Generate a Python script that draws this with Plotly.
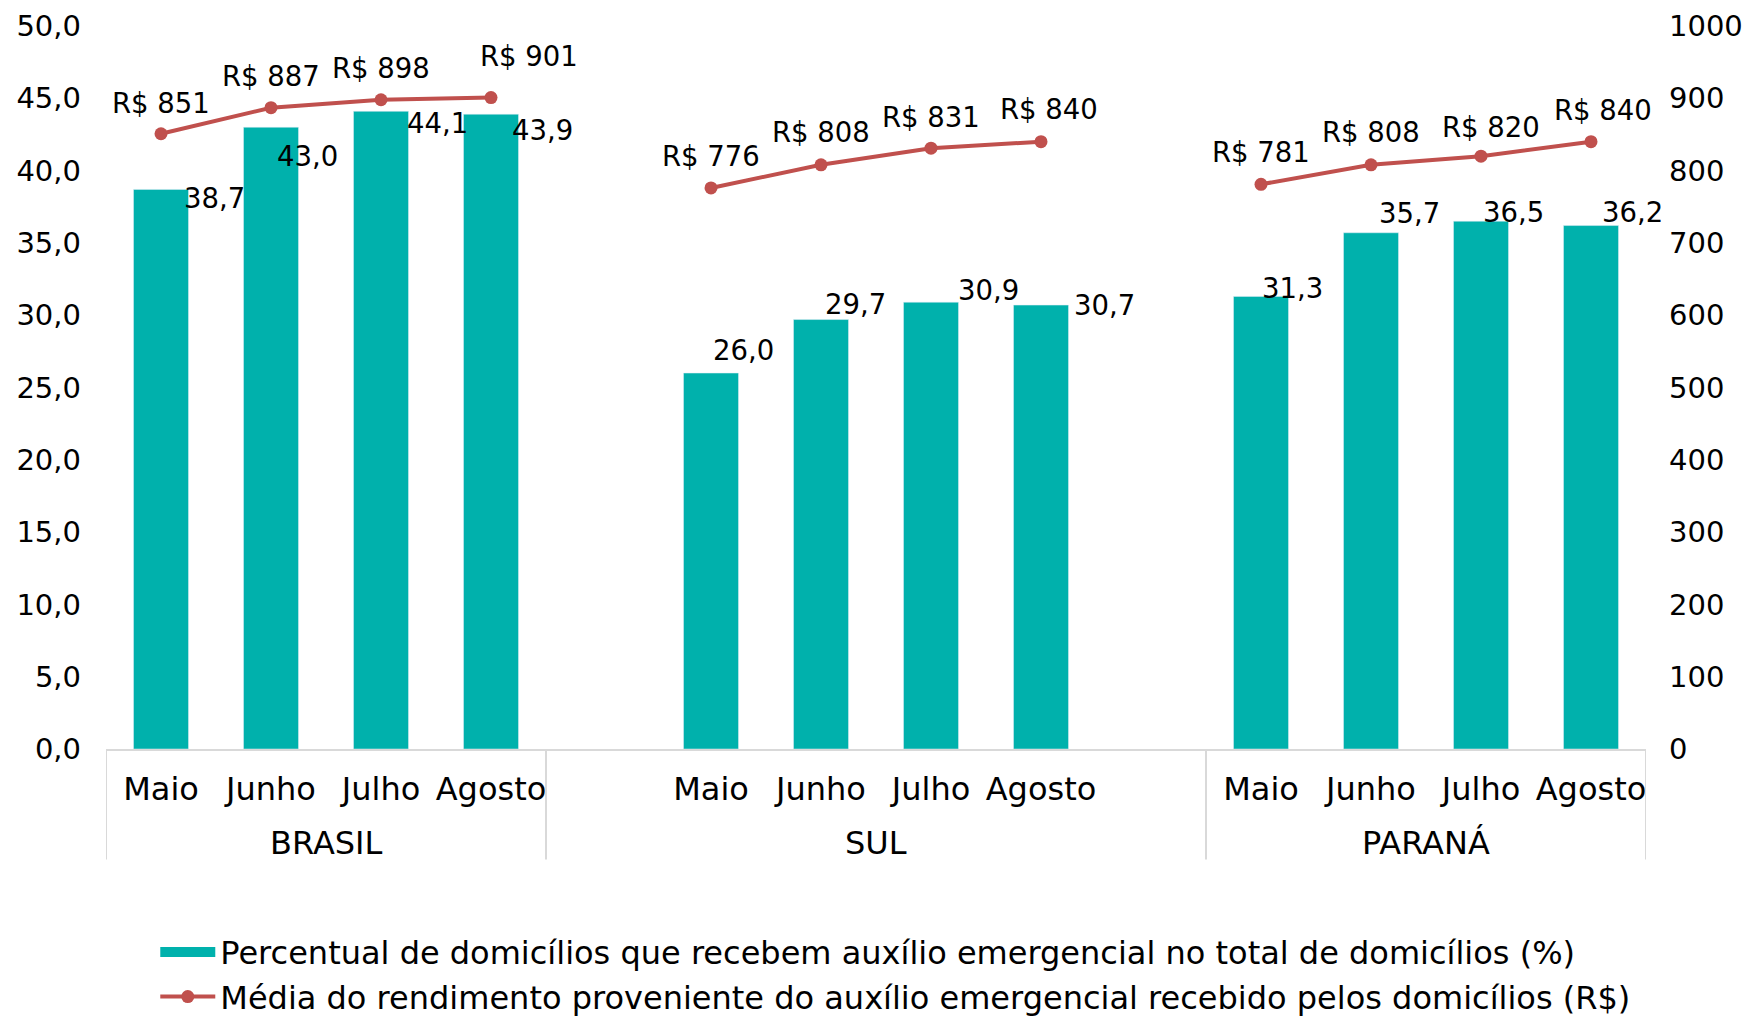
import plotly.graph_objects as go

# --- data -----------------------------------------------------------------
groups = ["BRASIL", "SUL", "PARANÁ"]
months = ["Maio", "Junho", "Julho", "Agosto"]

pct_brasil = [38.7, 43.0, 44.1, 43.9]
pct_sul = [26.0, 29.7, 30.9, 30.7]
pct_parana = [31.3, 35.7, 36.5, 36.2]

renda_brasil = [851, 887, 898, 901]
renda_sul = [776, 808, 831, 840]
renda_parana = [781, 808, 820, 840]

pct_series = [pct_brasil, pct_sul, pct_parana]
renda_series = [renda_brasil, renda_sul, renda_parana]

left_ticks = [0, 5, 10, 15, 20, 25, 30, 35, 40, 45, 50]
right_ticks = [0, 100, 200, 300, 400, 500, 600, 700, 800, 900, 1000]

name_bar = "Percentual de domicílios que recebem auxílio emergencial no total de domicílios (%)"
name_line = "Média do rendimento proveniente do auxílio emergencial recebido pelos domicílios (R$)"

# --- layout of category slots (empty slot on each side of the middle group) ---
group_pad = [0, 1, 0]

TEAL = "#00B1AC"
RED = "#C0504D"
GRID = "#D9D9D9"
FONT = "DejaVu Sans"
FS_TICK = 29
FS_LBL = 27.5
FS_CAT = 32
FS_LEG = 32

# bar label offsets (px): right of the bar top, some nudged
bar_lbl_dx = [[53, 36, 56, 51], [32, 34, 57, 63], [31, 38, 32, 41]]
bar_lbl_dy = [[-9, -29, -12, -16], [23, 16, 12, 0], [8, 20, 9, 14]]
# line label offsets (px)
line_lbl_dx = [[0, 0, 0, 38], [0, 0, 0, 8], [0, 0, 10, 12]]
line_lbl_dy = [[31, 32, 32, 42], [32, 33, 31, 33], [32, 33, 29, 32]]

xs_all, bars_all, line_x, line_y = [], [], [], []
tickvals, ticktext = [], []
boundaries = [-0.5]
group_centers = []
annotations = []

pos = 0
for gi, g in enumerate(groups):
    start = pos - 0.5
    pos += group_pad[gi]
    for mi, m in enumerate(months):
        xs_all.append(pos)
        bars_all.append(pct_series[gi][mi])
        line_x.append(pos)
        line_y.append(renda_series[gi][mi])
        tickvals.append(pos)
        ticktext.append(m)
        v = pct_series[gi][mi]
        annotations.append(dict(
            x=pos, y=v, xref="x", yref="y", text=f"{v:.1f}".replace(".", ","),
            showarrow=False, xshift=bar_lbl_dx[gi][mi], yshift=bar_lbl_dy[gi][mi],
            font=dict(family=FONT, size=FS_LBL, color="#000000")))
        r = renda_series[gi][mi]
        annotations.append(dict(
            x=pos, y=r, xref="x", yref="y2", text=f"R$ {r}",
            showarrow=False, xshift=line_lbl_dx[gi][mi], yshift=line_lbl_dy[gi][mi],
            font=dict(family=FONT, size=FS_LBL, color="#000000")))
        pos += 1
    pos += group_pad[gi]
    end = pos - 0.5
    boundaries.append(end)
    group_centers.append((start + end) / 2)
    line_x.append(None)
    line_y.append(None)

for g, c in zip(groups, group_centers):
    annotations.append(dict(
        x=c, y=-0.130, xref="x", yref="paper", text=g, showarrow=False,
        yanchor="middle", font=dict(family=FONT, size=FS_CAT, color="#000000")))

shapes = [dict(type="line", xref="x", yref="paper", x0=b, x1=b, y0=0, y1=-0.153,
               line=dict(color=GRID, width=2)) for b in boundaries]

fig = go.Figure()
fig.add_trace(go.Bar(
    x=xs_all, y=bars_all, marker=dict(color=TEAL), width=0.5,
    name=name_bar, showlegend=False, legendgroup="bar"))
# legend entry for the bars drawn as a wide swatch
fig.add_trace(go.Scatter(
    x=[None], y=[None], mode="lines", line=dict(color=TEAL, width=15),
    name=name_bar, legendgroup="bar", showlegend=True))
fig.add_trace(go.Scatter(
    x=line_x, y=line_y, yaxis="y2", mode="lines+markers",
    line=dict(color=RED, width=4), marker=dict(color=RED, size=13),
    name=name_line, connectgaps=False))

fig.update_layout(
    width=1746, height=1016,
    margin=dict(l=106, r=100, t=26, b=267, autoexpand=False),
    paper_bgcolor="white", plot_bgcolor="white",
    separators=",.",
    font=dict(family=FONT, size=FS_TICK, color="#000000"),
    showlegend=True,
    legend=dict(orientation="v", x=0.032, y=-0.243, xanchor="left", yanchor="top",
                font=dict(family=FONT, size=FS_LEG, color="#000000"),
                itemwidth=55, tracegroupgap=0, bgcolor="rgba(0,0,0,0)"),
    xaxis=dict(range=[boundaries[0], boundaries[-1]], tickvals=tickvals, ticktext=ticktext,
               showgrid=False, zeroline=False, showline=True, linecolor=GRID, linewidth=2,
               ticks="", ticklabelstandoff=11,
               tickfont=dict(family=FONT, size=FS_CAT, color="#000000")),
    yaxis=dict(range=[0, 50], tickvals=left_ticks, tickformat=".1f", showgrid=False,
               zeroline=False, showline=False, ticks="", ticklabelstandoff=24,
               tickfont=dict(family=FONT, size=FS_TICK, color="#000000")),
    yaxis2=dict(range=[0, 1000], tickvals=right_ticks, overlaying="y", side="right",
                showgrid=False, zeroline=False, showline=False, ticks="",
                ticklabelstandoff=22,
                tickfont=dict(family=FONT, size=FS_TICK, color="#000000")),
    annotations=annotations,
    shapes=shapes,
)

fig.write_html("out.html")
